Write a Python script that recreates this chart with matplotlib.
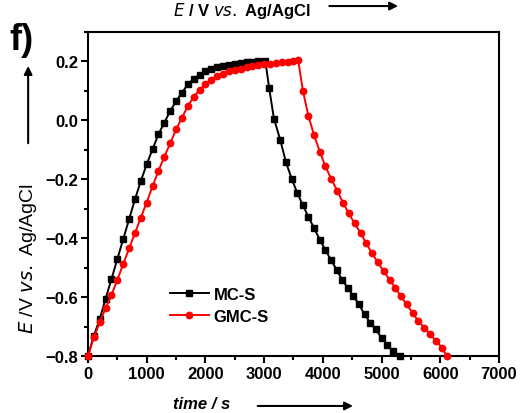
import matplotlib
matplotlib.use("Agg")
import matplotlib.pyplot as plt
from matplotlib.ticker import MultipleLocator

plt.rcParams["font.family"] = ["Liberation Sans", "DejaVu Sans"]

# MC-S (black squares): charge branch then discharge branch
mcs_time = [0, 100, 200, 300, 400, 500, 600, 700, 800, 900,
            1000, 1100, 1200, 1300, 1400, 1500, 1600, 1700, 1800, 1900,
            2000, 2100, 2200, 2300, 2400, 2500, 2600, 2700, 2800, 2900,
            3020,
            3086, 3168, 3277, 3370, 3469, 3567, 3660, 3753, 3851, 3950,
            4043, 4136, 4234, 4327, 4426, 4519, 4617, 4710, 4808, 4902,
            5000, 5093, 5192, 5320]
mcs_e = [-0.800, -0.731, -0.675, -0.605, -0.539, -0.471, -0.403, -0.336, -0.268, -0.206,
         -0.149, -0.098, -0.047, -0.008, 0.032, 0.065, 0.094, 0.122, 0.141, 0.155,
         0.166, 0.174, 0.180, 0.185, 0.189, 0.192, 0.195, 0.197, 0.199, 0.201,
         0.203,
         0.109, 0.005, -0.068, -0.141, -0.198, -0.248, -0.288, -0.327, -0.366, -0.406,
         -0.440, -0.473, -0.507, -0.541, -0.569, -0.597, -0.625, -0.659, -0.687, -0.710,
         -0.738, -0.761, -0.783, -0.800]

# GMC-S (red circles)
gmcs_time = [0, 100, 200, 300, 400, 500, 600, 700, 800, 900,
             1000, 1100, 1200, 1300, 1400, 1500, 1600, 1700, 1800, 1900,
             2000, 2100, 2200, 2300, 2400, 2500, 2600, 2700, 2800, 2900,
             3000, 3100, 3200, 3300, 3400, 3500, 3580,
             3660, 3753, 3851, 3950, 4043, 4141, 4245, 4344, 4442, 4541,
             4645, 4738, 4836, 4935, 5038, 5137, 5235, 5328, 5427, 5531,
             5629, 5728, 5832, 5930, 6029, 6110]
gmcs_e = [-0.800, -0.737, -0.686, -0.638, -0.593, -0.541, -0.488, -0.435, -0.383, -0.330,
          -0.279, -0.223, -0.172, -0.123, -0.078, -0.031, 0.009, 0.048, 0.080, 0.104,
          0.122, 0.137, 0.149, 0.158, 0.166, 0.171, 0.176, 0.180, 0.184, 0.187,
          0.190, 0.193, 0.195, 0.197, 0.199, 0.201, 0.204,
          0.101, 0.016, -0.051, -0.107, -0.156, -0.198, -0.239, -0.280, -0.316, -0.350,
          -0.383, -0.417, -0.451, -0.482, -0.513, -0.541, -0.569, -0.597, -0.625, -0.654,
          -0.682, -0.704, -0.727, -0.749, -0.772, -0.800]

fig = plt.figure(figsize=(5.31, 4.14), dpi=100)
ax = fig.add_axes([0.1657, 0.1377, 0.774, 0.7826])

ax.plot(mcs_time, mcs_e, "-s", color="black", markersize=4, linewidth=1.4,
        label="MC-S", clip_on=False, zorder=3)
ax.plot(gmcs_time, gmcs_e, "-o", color="red", markersize=4.6, linewidth=1.4,
        label="GMC-S", clip_on=False, zorder=4)

ax.set_xlim(0, 7000)
ax.set_ylim(-0.8, 0.3)
ax.set_xticks([0, 1000, 2000, 3000, 4000, 5000, 6000, 7000])
ax.set_yticks([-0.8, -0.6, -0.4, -0.2, 0.0, 0.2])
ax.xaxis.set_minor_locator(MultipleLocator(500))
ax.yaxis.set_minor_locator(MultipleLocator(0.1))
ax.tick_params(which="major", direction="out", length=5, width=1.5,
               labelsize=12, pad=2)
ax.tick_params(which="minor", direction="out", length=3, width=1.5)
for lab in ax.get_xticklabels() + ax.get_yticklabels():
    lab.set_fontweight("bold")
for sp in ax.spines.values():
    sp.set_linewidth(1.5)

leg = ax.legend(loc="upper left", bbox_to_anchor=(0.18, 0.24), frameon=False,
                fontsize=12, handlelength=2.3, handletextpad=0.3,
                labelspacing=0.45, borderpad=0)
for t in leg.get_texts():
    t.set_fontweight("bold")

arrow = dict(arrowstyle="-|>", color="black", lw=1.5, mutation_scale=12)

# panel letter and axis labels
fig.text(0.018, 0.88, "f)", fontsize=26, fontweight="bold")
fig.text(0.325, 0.998, r"$\it{E}$ / V $\it{vs.}$ Ag/AgCl", fontsize=12,
         fontweight="bold", ha="left", va="top")
ax.annotate("", xy=(0.755, 0.983), xytext=(0.615, 0.983), xycoords="figure fraction",
            arrowprops=arrow, annotation_clip=False)

fig.text(0.053, 0.375, r"$\it{E}$ /V $\it{vs.}$ Ag/AgCl", fontsize=14, rotation=90,
         ha="center", va="center")
ax.annotate("", xy=(0.053, 0.845), xytext=(0.053, 0.645), xycoords="figure fraction",
            arrowprops=arrow, annotation_clip=False)

fig.text(0.38, 0.022, "time / s", fontsize=12, fontstyle="italic", fontweight="bold",
         ha="center", va="center")
ax.annotate("", xy=(0.67, 0.017), xytext=(0.48, 0.017), xycoords="figure fraction",
            arrowprops=arrow, annotation_clip=False)

fig.savefig("out.png", dpi=100)
